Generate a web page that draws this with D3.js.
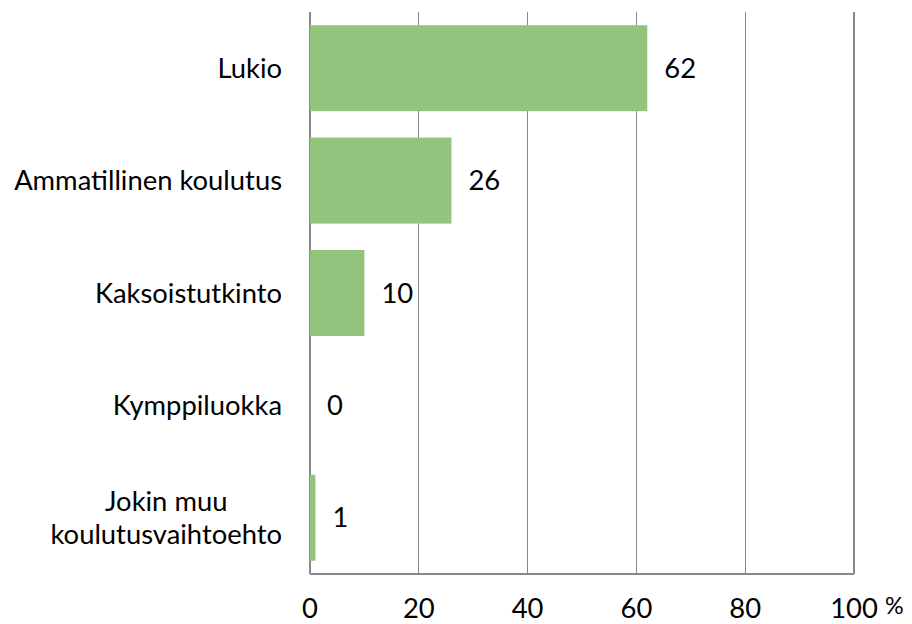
<!DOCTYPE html>
<html><head><meta charset="utf-8">
<script src="https://cdn.jsdelivr.net/npm/d3@7"></script>
<style>html,body{margin:0;padding:0;background:#fff}svg{display:block}</style>
</head><body>
<svg id="c" width="912" height="624"></svg>
<script>
const categories = ["Lukio", "Ammatillinen koulutus", "Kaksoistutkinto", "Kymppiluokka", "Jokin muu koulutusvaihtoehto"];
const categoryLines = [["Lukio"], ["Ammatillinen koulutus"], ["Kaksoistutkinto"], ["Kymppiluokka"], ["Jokin muu", "koulutusvaihtoehto"]];
const values = [62, 26, 10, 0, 1];
const xTicks = [0, 20, 40, 60, 80, 100];
const unitLabel = "%";

(function () {
const FONT = "Lato, 'Open Sans', sans-serif";
const svg = d3.select("#c");
const mLeft = 310, mRight = 854, mTop = 12, mBottom = 574;

// fit font size so "Ammatillinen koulutus" ~ 268px wide (Calibri-like metrics)
const probe = svg.append("text").attr("font-family", FONT).attr("font-size", 100).text("Ammatillinen koulutus");
const w100 = probe.node().getComputedTextLength();
probe.remove();
const fs = 100 * 268 / w100;

const x = d3.scaleLinear().domain([0, 100]).range([mLeft, mRight]);
const y = d3.scaleBand().domain(categories).range([mTop, mBottom]).paddingInner(0.235).paddingOuter(0.1175);

// gridlines
svg.append("g").selectAll("line").data(xTicks).join("line")
  .attr("x1", d => x(d)).attr("x2", d => x(d))
  .attr("y1", mTop).attr("y2", mBottom)
  .attr("stroke", "#898989").attr("stroke-width", 1.3).attr("shape-rendering", "crispEdges");
// bottom axis line
svg.append("line").attr("x1", x(0)).attr("x2", x(100)).attr("y1", mBottom).attr("y2", mBottom)
  .attr("stroke", "#898989").attr("stroke-width", 1.3).attr("shape-rendering", "crispEdges");

// bars
svg.append("g").selectAll("rect").data(values).join("rect")
  .attr("x", x(0))
  .attr("y", (d, i) => y(categories[i]))
  .attr("width", d => x(d) - x(0))
  .attr("height", y.bandwidth())
  .attr("fill", "#93C47D");

// value labels
svg.append("g").selectAll("text").data(values).join("text")
  .attr("x", d => x(d) + 17)
  .attr("y", (d, i) => y(categories[i]) + y.bandwidth() / 2)
  .attr("dy", "0.35em")
  .attr("font-family", FONT).attr("font-size", fs).attr("fill", "#000")
  .text(d => d);

// category labels
const lineH = fs * 1.22;
const cl = svg.append("g");
categoryLines.forEach((lines, i) => {
  const cy = y(categories[i]) + y.bandwidth() / 2;
  const t = cl.append("text")
    .attr("font-family", FONT).attr("font-size", fs).attr("fill", "#000");
  const widths = lines.map(s => {
    const p = svg.append("text").attr("font-family", FONT).attr("font-size", fs).text(s);
    const w = p.node().getComputedTextLength(); p.remove(); return w;
  });
  const maxW = d3.max(widths);
  const cx = 282 - maxW / 2;
  lines.forEach((s, j) => {
    t.append("tspan").attr("x", cx).attr("text-anchor", "middle")
      .attr("y", cy + (j - (lines.length - 1) / 2) * lineH)
      .attr("dy", "0.35em").text(s);
  });
});

// x tick labels
svg.append("g").selectAll("text").data(xTicks).join("text")
  .attr("x", d => x(d)).attr("y", 618)
  .attr("text-anchor", "middle")
  .attr("font-family", FONT).attr("font-size", fs).attr("fill", "#000")
  .text(d => d);
svg.append("text").attr("x", 885).attr("y", 614)
  .attr("font-family", FONT).attr("font-size", fs * 0.85).attr("fill", "#000")
  .text(unitLabel);
})();
</script>
</body></html>
